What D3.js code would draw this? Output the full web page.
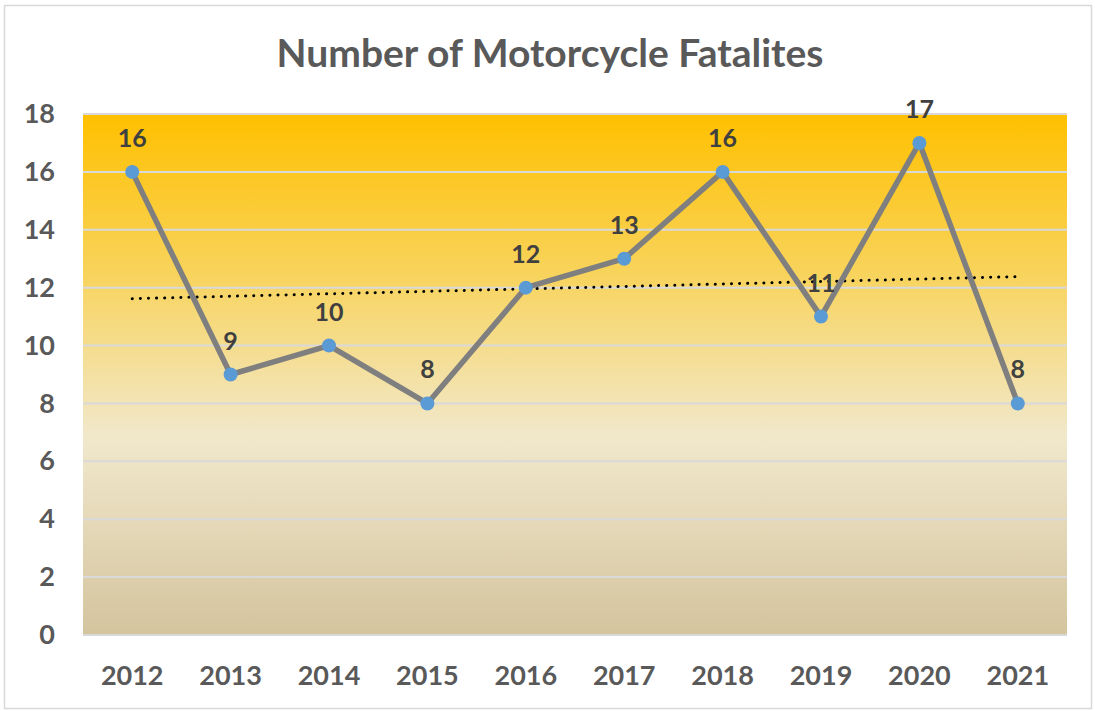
<!DOCTYPE html>
<html>
<head>
<meta charset="utf-8">
<script src="https://cdn.jsdelivr.net/npm/d3@7"></script>
<style>
  body { margin: 0; background: #fff; }
  svg { display: block; font-family: Lato, "Open Sans", sans-serif; }
</style>
</head>
<body>
<div id="chart"></div>
<script>
// data
const years = ["2012", "2013", "2014", "2015", "2016", "2017", "2018", "2019", "2020", "2021"];
const fatalities = [16, 9, 10, 8, 12, 13, 16, 11, 17, 8];
const yTicks = [0, 2, 4, 6, 8, 10, 12, 14, 16, 18];
const title = "Number of Motorcycle Fatalites";

const W = 1095, H = 711;
const margin = {top: 114, right: 28, bottom: 76, left: 83};
const width = W - margin.left - margin.right;
const height = H - margin.top - margin.bottom;

const svg = d3.select("#chart").append("svg")
  .attr("width", W).attr("height", H);

// chart frame
svg.append("rect")
  .attr("x", 4.5).attr("y", 5.5).attr("width", W - 8).attr("height", H - 8)
  .attr("fill", "#fff").attr("stroke", "#d9d9d9").attr("stroke-width", 1.5);

// background gradient of the plot area
const grad = svg.append("defs").append("linearGradient")
  .attr("id", "bg").attr("x1", 0).attr("y1", 0).attr("x2", 0).attr("y2", 1);
grad.append("stop").attr("offset", "0%").attr("stop-color", "#ffc000");
grad.append("stop").attr("offset", "30%").attr("stop-color", "#f8d35a");
grad.append("stop").attr("offset", "62%").attr("stop-color", "#f1e8cc");
grad.append("stop").attr("offset", "100%").attr("stop-color", "#d4c49e");

const g = svg.append("g")
  .attr("transform", "translate(" + margin.left + "," + margin.top + ")");

const x = d3.scaleBand().domain(years).range([0, width]);
const y = d3.scaleLinear().domain([0, 18]).range([height, 0]);
const cx = d => x(d) + x.bandwidth() / 2;

g.append("rect")
  .attr("width", width).attr("height", height)
  .attr("fill", "url(#bg)");

// gridlines
g.selectAll(".grid").data(yTicks).enter().append("line")
  .attr("x1", 0).attr("x2", width)
  .attr("y1", d => y(d)).attr("y2", d => y(d))
  .attr("stroke", "#d9d9d9").attr("stroke-width", 2);

// y axis
const yAxis = g.append("g")
  .call(d3.axisLeft(y).tickValues(yTicks).tickSize(0).tickPadding(28));
yAxis.select(".domain").remove();
yAxis.selectAll("text")
  .attr("font-size", 27).attr("font-weight", "bold").attr("fill", "#595959")
  .attr("font-family", "Lato, 'Open Sans', sans-serif");

// x axis
const xAxis = g.append("g")
  .attr("transform", "translate(0," + height + ")")
  .call(d3.axisBottom(x).tickSize(0).tickPadding(31));
xAxis.select(".domain").remove();
xAxis.selectAll("text")
  .attr("font-size", 27).attr("font-weight", "bold").attr("fill", "#595959")
  .attr("font-family", "Lato, 'Open Sans', sans-serif");

// linear trendline (least squares)
const n = fatalities.length;
const mx = d3.mean(d3.range(n)), my = d3.mean(fatalities);
const slope = d3.sum(fatalities, (v, i) => (i - mx) * (v - my)) /
              d3.sum(d3.range(n), i => (i - mx) * (i - mx));
const trend = i => my + slope * (i - mx);
g.append("line")
  .attr("x1", cx(years[0])).attr("y1", y(trend(0)))
  .attr("x2", cx(years[n - 1])).attr("y2", y(trend(n - 1)))
  .attr("stroke", "#000").attr("stroke-width", 3)
  .attr("stroke-linecap", "round").attr("stroke-dasharray", "0.1 8");

// series line
const line = d3.line().x((d, i) => cx(years[i])).y(d => y(d));
g.append("path")
  .datum(fatalities)
  .attr("d", line)
  .attr("fill", "none").attr("stroke", "#7f7f7f").attr("stroke-width", 5.5)
  .attr("stroke-linejoin", "round");

// markers
g.selectAll(".pt").data(fatalities).enter().append("circle")
  .attr("cx", (d, i) => cx(years[i])).attr("cy", d => y(d))
  .attr("r", 7).attr("fill", "#5b9bd5");

// data labels
g.selectAll(".lbl").data(fatalities).enter().append("text")
  .attr("x", (d, i) => cx(years[i])).attr("y", d => y(d) - 25)
  .attr("text-anchor", "middle")
  .attr("font-size", 25).attr("font-weight", "bold").attr("fill", "#404040")
  .text(d => d);

// title
svg.append("text")
  .attr("x", 550).attr("y", 67)
  .attr("text-anchor", "middle")
  .attr("font-size", 39).attr("font-weight", "bold").attr("fill", "#595959")
  .text(title);
</script>
</body>
</html>
